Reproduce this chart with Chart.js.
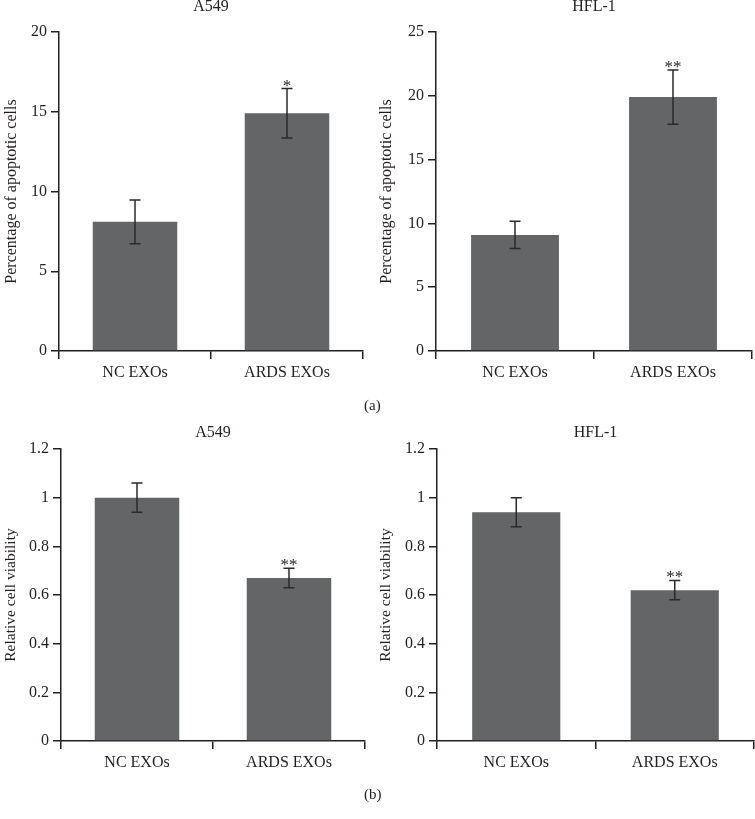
<!DOCTYPE html>
<html>
<head>
<meta charset="utf-8">
<script src="https://cdn.jsdelivr.net/npm/chart.js@4/dist/chart.umd.min.js"></script>
<style>
  body { margin: 0; background: #fff; width: 755px; height: 819px; position: relative; overflow: hidden; }
  .panel { position: absolute; }
  .tag { position: absolute; font: 15px "Liberation Serif", serif; color: #231f20; }
</style>
</head>
<body>
<div class="panel" style="left:0;top:0"><canvas id="apoA549" width="370" height="395"></canvas></div>
<div class="panel" style="left:375px;top:0"><canvas id="apoHFL1" width="380" height="395"></canvas></div>
<div class="panel" style="left:0;top:400px"><canvas id="viaA549" width="370" height="395"></canvas></div>
<div class="panel" style="left:375px;top:400px"><canvas id="viaHFL1" width="380" height="395"></canvas></div>
<div class="tag" style="left:364px;top:397px">(a)</div>
<div class="tag" style="left:364px;top:786px">(b)</div>
<script>
const groups = ['NC EXOs', 'ARDS EXOs'];

const apoA549 = [8.1, 14.9];
const apoA549Err = [1.37, 1.55];
const apoA549Sig = ['', '*'];

const apoHFL1 = [9.1, 19.9];
const apoHFL1Err = [1.07, 2.13];
const apoHFL1Sig = ['', '**'];

const viaA549 = [1.0, 0.67];
const viaA549Err = [0.06, 0.04];
const viaA549Sig = ['', '**'];

const viaHFL1 = [0.94, 0.62];
const viaHFL1Err = [0.06, 0.04];
const viaHFL1Sig = ['', '**'];

const ink = '#231f20';
const barColor = '#646567';
const serif = '"Liberation Serif", "Times New Roman", serif';

// error bars, significance stars and panel title
const extras = {
    id: 'extras',
    afterDatasetsDraw(chart, args, opts) {
        const { ctx, chartArea } = chart;
        const yScale = chart.scales.y;
        const meta = chart.getDatasetMeta(0);
        const values = chart.data.datasets[0].data;
        ctx.save();
        ctx.strokeStyle = '#2a2a2a';
        ctx.lineWidth = 1.5;
        ctx.fillStyle = ink;
        meta.data.forEach((bar, i) => {
            const hi = yScale.getPixelForValue(values[i] + opts.err[i]);
            const lo = yScale.getPixelForValue(values[i] - opts.err[i]);
            ctx.beginPath();
            ctx.moveTo(bar.x, hi);
            ctx.lineTo(bar.x, lo);
            ctx.moveTo(bar.x - 5.5, hi);
            ctx.lineTo(bar.x + 5.5, hi);
            ctx.moveTo(bar.x - 5.5, lo);
            ctx.lineTo(bar.x + 5.5, lo);
            ctx.stroke();
            if (opts.sig[i]) {
                ctx.font = '17px ' + serif;
                ctx.textAlign = 'center';
                ctx.textBaseline = 'alphabetic';
                ctx.fillText(opts.sig[i], bar.x, hi + 2);
            }
        });
        ctx.font = '16px ' + serif;
        ctx.textAlign = 'center';
        ctx.textBaseline = 'middle';
        ctx.fillText(opts.title, (chartArea.left + chartArea.right) / 2, chartArea.top - opts.titleGap);
        ctx.restore();
    }
};

function makeChart(id, values, err, sig, cfg) {
    return new Chart(document.getElementById(id), {
        type: 'bar',
        data: {
            labels: groups,
            datasets: [{
                data: values,
                backgroundColor: barColor,
                borderWidth: 0,
                barPercentage: 0.556,
                categoryPercentage: 1.0
            }]
        },
        options: {
            responsive: false,
            animation: false,
            layout: { padding: cfg.padding },
            plugins: {
                legend: { display: false },
                tooltip: { enabled: false },
                extras: { err: err, sig: sig, title: cfg.title, titleGap: cfg.titleGap }
            },
            scales: {
                x: {
                    afterFit: (scale) => { scale.height = 40; },
                    grid: { offset: true, drawOnChartArea: false, tickLength: 8, color: ink, lineWidth: 1.5 },
                    border: { color: ink, width: 1.5 },
                    ticks: { color: ink, padding: 4, font: { family: serif, size: 16 } }
                },
                y: {
                    min: 0,
                    max: cfg.max,
                    afterFit: (scale) => { scale.width = cfg.yWidth; },
                    grid: { drawOnChartArea: false, tickLength: 8, color: ink, lineWidth: 1.5 },
                    border: { color: ink, width: 1.5 },
                    ticks: {
                        stepSize: cfg.step,
                        color: ink,
                        padding: 4,
                        font: { family: serif, size: 16 },
                        callback: (v) => String(Number(v.toFixed(2)))
                    },
                    title: {
                        display: true,
                        text: cfg.yTitle,
                        color: ink,
                        padding: { top: 2, bottom: 0 },
                        font: { family: serif, size: cfg.yTitleSize }
                    }
                }
            }
        },
        plugins: [extras]
    });
}

makeChart('apoA549', apoA549, apoA549Err, apoA549Sig, {
    title: 'A549', titleGap: 25, max: 20, step: 5, yWidth: 59,
    yTitle: 'Percentage of apoptotic cells', yTitleSize: 16,
    padding: { left: 0, top: 32, right: 7, bottom: 4 }
});
makeChart('apoHFL1', apoHFL1, apoHFL1Err, apoHFL1Sig, {
    title: 'HFL-1', titleGap: 25, max: 25, step: 5, yWidth: 61,
    yTitle: 'Percentage of apoptotic cells', yTitleSize: 16,
    padding: { left: 0, top: 32, right: 3, bottom: 4 }
});
makeChart('viaA549', viaA549, viaA549Err, viaA549Sig, {
    title: 'A549', titleGap: 16, max: 1.2, step: 0.2, yWidth: 61,
    yTitle: 'Relative cell viability', yTitleSize: 15.5,
    padding: { left: 0, top: 49, right: 5, bottom: 14 }
});
makeChart('viaHFL1', viaHFL1, viaHFL1Err, viaHFL1Sig, {
    title: 'HFL-1', titleGap: 16, max: 1.2, step: 0.2, yWidth: 62,
    yTitle: 'Relative cell viability', yTitleSize: 15.5,
    padding: { left: 0, top: 49, right: 1, bottom: 14 }
});
</script>
</body>
</html>
